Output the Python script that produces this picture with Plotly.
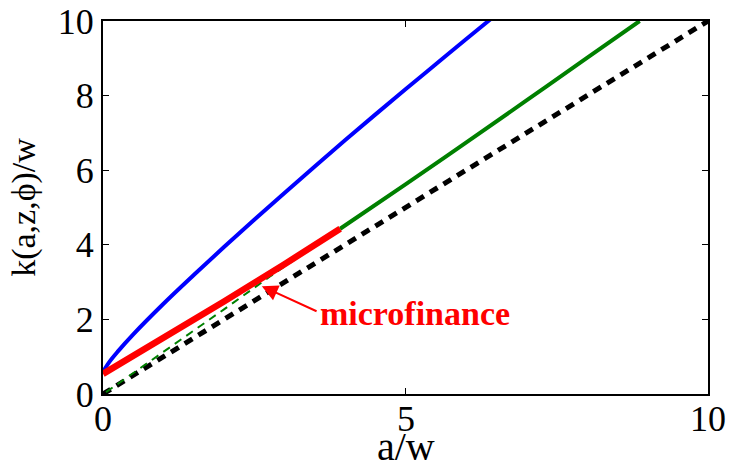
import plotly.graph_objects as go

# ---- data ----
blue_a = [0.0, 0.1, 0.25, 0.5, 1.0, 1.5, 2.0, 2.5, 3.0, 3.5, 4.0, 4.5, 5.0, 5.5, 6.0, 6.4]
blue_k = [0.59, 0.85, 1.15, 1.60, 2.42, 3.19, 3.94, 4.67, 5.39, 6.10, 6.80, 7.49, 8.17, 8.84, 9.51, 10.04]

red_a = [0.0, 1.0, 2.0, 3.0, 3.92]
red_k = [0.54, 1.50, 2.48, 3.48, 4.43]

green_low_a = [0.05, 0.5, 1.0, 2.0, 2.76, 3.92]
green_low_k = [0.05, 0.56, 1.14, 2.27, 3.15, 4.43]

green_high_a = [3.92, 5.0, 6.0, 7.0, 8.0, 8.87]
green_high_k = [4.43, 5.62, 6.74, 7.87, 9.01, 10.0]

diag_a = [0.0, 10.0]
diag_k = [0.0, 10.0]

x_ticks = [0, 5, 10]
x_tick_text = ["0", "5", "10"]
y_ticks = [0, 2, 4, 6, 8, 10]
y_tick_text = ["0", "2", "4", "6", "8", "10"]

x_title = "a/w"
y_title = "k(a,z,\u03d5)/w"
label_text = "microfinance"
arrow_tip = (2.625, 2.89)
arrow_tail = (3.555, 2.20)
label_pos = (3.56, 2.16)

FONT = "Liberation Serif, Times New Roman, serif"

fig = go.Figure()
fig.add_trace(go.Scatter(x=diag_a, y=diag_k, mode="lines",
                         line=dict(color="black", width=5, dash="9px,7px"),
                         showlegend=False, hoverinfo="skip"))
fig.add_trace(go.Scatter(x=green_low_a, y=green_low_k, mode="lines",
                         line=dict(color="#008000", width=2, dash="8px,6px"),
                         showlegend=False, hoverinfo="skip"))
fig.add_trace(go.Scatter(x=green_high_a, y=green_high_k, mode="lines", line_shape="spline",
                         line=dict(color="#008000", width=4),
                         showlegend=False, hoverinfo="skip"))
fig.add_trace(go.Scatter(x=blue_a, y=blue_k, mode="lines", line_shape="spline",
                         line=dict(color="#0000FF", width=4),
                         showlegend=False, hoverinfo="skip"))
fig.add_trace(go.Scatter(x=red_a, y=red_k, mode="lines",
                         line=dict(color="#FF0000", width=6.5),
                         showlegend=False, hoverinfo="skip"))

fig.add_annotation(x=arrow_tip[0], y=arrow_tip[1], ax=arrow_tail[0], ay=arrow_tail[1],
                   xref="x", yref="y", axref="x", ayref="y", text="",
                   showarrow=True, arrowhead=2, arrowsize=1.6, arrowwidth=2,
                   arrowcolor="#FF0000")
fig.add_annotation(x=label_pos[0], y=label_pos[1], xref="x", yref="y",
                   text="<b>" + label_text + "</b>", showarrow=False,
                   xanchor="left", yanchor="middle",
                   font=dict(family=FONT, size=34, color="#FF0000"))

# x tick labels and x title placed with the x axis scale (closer to the axis than plotly's default)
for v, t in zip(x_ticks, x_tick_text):
    fig.add_annotation(x=v, y=-0.067, xref="x", yref="paper", text=t, showarrow=False,
                       xanchor="center", yanchor="middle",
                       font=dict(family=FONT, size=36, color="black"))
fig.add_annotation(x=5, y=-0.142, xref="x", yref="paper", text=x_title, showarrow=False,
                   xanchor="center", yanchor="middle",
                   font=dict(family=FONT, size=40, color="black"))

axis_common = dict(range=[0, 10], showgrid=False, zeroline=False,
                   showline=True, linecolor="black", linewidth=2, mirror="ticks",
                   ticks="inside", ticklen=6, tickwidth=1, tickcolor="black",
                   tickfont=dict(family=FONT, size=36, color="black"))

fig.update_xaxes(tickvals=x_ticks, ticktext=x_tick_text, showticklabels=False,
                 **axis_common)
fig.update_yaxes(tickvals=y_ticks, ticktext=y_tick_text,
                 title=dict(text=y_title, font=dict(family=FONT, size=34, color="black"),
                            standoff=12),
                 **axis_common)

fig.update_layout(width=732, height=460, autosize=False,
                  margin=dict(l=103, r=24, t=21, b=66, autoexpand=False),
                  paper_bgcolor="white", plot_bgcolor="white")

fig.write_html("out.html")
